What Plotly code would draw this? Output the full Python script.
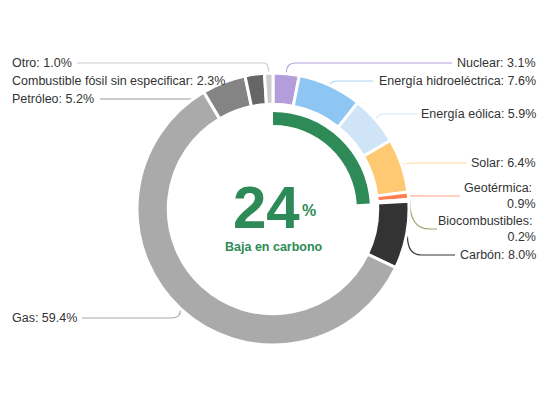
import math
import plotly.graph_objects as go

# ---------------- data ----------------
categories = ["Nuclear", "Energía hidroeléctrica", "Energía eólica", "Solar",
              "Geotérmica", "Biocombustibles", "Carbón", "Gas", "Petróleo",
              "Combustible fósil sin especificar", "Otro"]
shares = [3.1, 7.6, 5.9, 6.4, 0.9, 0.2, 8.0, 59.4, 5.2, 2.3, 1.0]
low_carbon = [True, True, True, True, True, True, False, False, False, False, False]
center_label = "Baja en carbono"

# ---------------- styles ----------------
slice_colors = ["#b39ddb", "#8ec6f3", "#cfe4f7", "#ffc872", "#ff7f50", "#9aa86a",
                "#333333", "#aaaaaa", "#848484", "#666666", "#cccccc"]
leader_colors = ["#b39ddb", "#a9d3f5", "#d8e9f8", "#ffd89a", "#ffa98a", "#9aa86a",
                 "#333333", "#aaaaaa", "#999999", "#777777", "#cccccc"]
GREEN = "#2e8b57"
TEXT = "#333333"
FONT = "Liberation Sans, Arial, sans-serif"

W, H = 548, 420
CX, CY = 273, 209
R_OUT = 136
HOLE = 0.77
R_ARC = 97
ARC_HOLE = 0.865

# label layout: side, label y (px), elbow (dx, y), end x of horizontal leader
label_layout = [
    dict(side="r", y=63,  elbow=(9, 63),  end=452, tx=538),
    dict(side="r", y=81,  elbow=(8, 81),  end=373, tx=538),
    dict(side="r", y=114, elbow=(10, 114), end=418, tx=538),
    dict(side="r", y=163, elbow=(12, 163), end=467, tx=538),
    dict(side="r", y=196, elbow=(20, 196), end=460, tx=538, br=True),
    dict(side="r", y=229, elbow=(20, 229), end=437, tx=538, br=True),
    dict(side="r", y=255, elbow=(14, 255), end=455, tx=538),
    dict(side="l", y=318, elbow=(-9, 318), end=82,  tx=10),
    dict(side="l", y=99,  elbow=(-30, 99), end=100, tx=10),
    dict(side="l", y=81,  elbow=(-20, 83), end=227, tx=10, noh=True),
    dict(side="l", y=63,  elbow=(-5, 63), end=77,  tx=10),
]


def px(x):
    return x / W


def py(y):
    return 1 - y / H


fig = go.Figure()

# outer ring
fig.add_trace(go.Pie(
    values=shares, labels=categories, sort=False, direction="clockwise", rotation=0,
    hole=HOLE, textinfo="none", hoverinfo="label+percent",
    marker=dict(colors=slice_colors, line=dict(color="white", width=3)),
    domain=dict(x=[px(CX - R_OUT), px(CX + R_OUT)], y=[py(CY + R_OUT), py(CY - R_OUT)]),
    showlegend=False,
))

# inner low-carbon arc
low_total = sum(v for v, lc in zip(shares, low_carbon) if lc)
rest_total = sum(shares) - low_total
fig.add_trace(go.Pie(
    values=[low_total, rest_total], labels=[center_label, "resto"], sort=False,
    direction="clockwise", rotation=0, hole=ARC_HOLE, textinfo="none", hoverinfo="skip",
    marker=dict(colors=[GREEN, "rgba(0,0,0,0)"], line=dict(width=0)),
    domain=dict(x=[px(CX - R_ARC), px(CX + R_ARC)], y=[py(CY + R_ARC), py(CY - R_ARC)]),
    showlegend=False,
))

# leaders and labels computed from slice mid-angles
total = sum(shares)
cum = 0.0
shapes = []
annotations = []
for cat, v, lay, lc in zip(categories, shares, label_layout, leader_colors):
    mid = (cum + v / 2) / total * 2 * math.pi
    cum += v
    ax = CX + (R_OUT + 1) * math.sin(mid)
    ay = CY - (R_OUT + 1) * math.cos(mid)
    ex, ey = ax + lay["elbow"][0], lay["elbow"][1]
    if lay.get("noh"):
        path = f"M {px(ax)},{py(ay)} L {px(lay['end'])},{py(ey)}"
    else:
        path = (f"M {px(ax)},{py(ay)} Q {px(ax)},{py(ey)} {px(ex)},{py(ey)} "
                f"L {px(lay['end'])},{py(ey)}")
    shapes.append(dict(type="path", xref="paper", yref="paper", path=path,
                       line=dict(color=lc, width=1.2), layer="below"))
    txt = f"{cat}: <br>{v:.1f}%" if lay.get("br") else f"{cat}: {v:.1f}%"
    annotations.append(dict(
        x=px(lay["tx"]), y=py(lay["y"]), xref="paper", yref="paper",
        text=txt, showarrow=False,
        xanchor="right" if lay["side"] == "r" else "left", yanchor="middle",
        align="right" if lay["side"] == "r" else "left",
        font=dict(family=FONT, size=12.5, color=TEXT),
    ))

# center text
pct = round(low_total)
annotations.append(dict(x=px(266), y=py(207), xref="paper", yref="paper",
                        text=f"<b>{pct}</b>", showarrow=False,
                        xanchor="center", yanchor="middle",
                        font=dict(family=FONT, size=60, color=GREEN)))
annotations.append(dict(x=px(309), y=py(210), xref="paper", yref="paper",
                        text="<b>%</b>", showarrow=False,
                        xanchor="center", yanchor="middle",
                        font=dict(family=FONT, size=16, color=GREEN)))
annotations.append(dict(x=px(274), y=py(247), xref="paper", yref="paper",
                        text=f"<b>{center_label}</b>", showarrow=False,
                        xanchor="center", yanchor="middle",
                        font=dict(family=FONT, size=12.5, color=GREEN)))

fig.update_layout(
    width=W, height=H, margin=dict(l=0, r=0, t=0, b=0),
    paper_bgcolor="white", plot_bgcolor="white",
    shapes=shapes, annotations=annotations,
    font=dict(family=FONT, color=TEXT),
)

fig.write_html("out.html",
               config={"displayModeBar": False},
               post_script="document.body.style.margin='0';"
                           "document.body.style.overflow='hidden';")
